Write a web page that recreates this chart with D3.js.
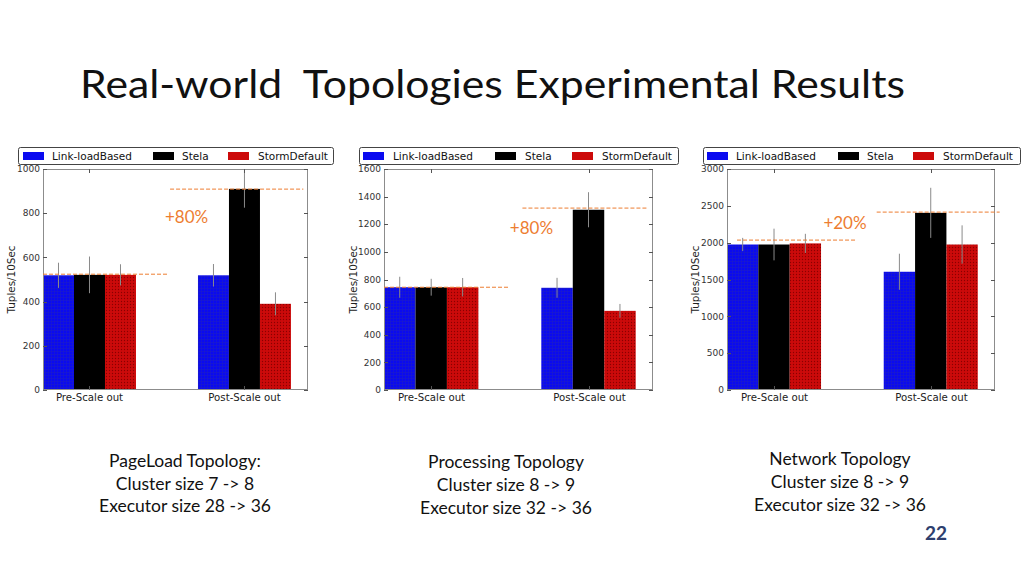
<!DOCTYPE html>
<html><head><meta charset="utf-8">
<script src="https://cdn.jsdelivr.net/npm/d3@7"></script>
<style>body{margin:0;background:#fff;} svg{display:block;}</style>
</head><body>
<svg id="c" width="1024" height="576"></svg>
<script>
const categories = ["Pre-Scale out", "Post-Scale out"];
const seriesNames = ["Link-loadBased", "Stela", "StormDefault"];
// means [group][series], errors (+/-)
const pageLoadMeans = [[519, 521, 521], [519, 910, 390]];
const pageLoadErrors = [[57, 83, 48], [51, 85, 52]];
const processingMeans = [[744, 744, 744], [740, 1305, 573]];
const processingErrors = [[76, 61, 67], [72, 127, 50]];
const networkMeans = [[1975, 1975, 1990], [1605, 2405, 1975]];
const networkErrors = [[90, 215, 130], [245, 340, 260]];
const yMaxes = [1000, 1600, 3000];
const yTickSteps = [200, 200, 500];
// reference dashed lines: [value, x0, x1] in data units
const pageLoadRefs = [[524, 0, 0.806], [909, 0.82, 1.68]];
const processingRefs = [[744, 0, 0.80], [1317, 0.88, 1.67]];
const networkRefs = [[2035, 0.064, 0.82], [2415, 0.955, 1.74]];
const gainLabels = ["+80%", "+80%", "+20%"];
const gainPos = [[0.787, 783], [0.80, 1173], [0.615, 2267]];
const captions = [
  ["PageLoad Topology:", "Cluster size 7 -> 8", "Executor size 28 -> 36"],
  ["Processing Topology", "Cluster size 8 -> 9", "Executor size 32 -> 36"],
  ["Network Topology", "Cluster size 8 -> 9", "Executor size 32 -> 36"]
];
const titleText = "Real-world  Topologies Experimental Results";
const pageNumber = "22";

const svg = d3.select("#c");
const defs = svg.append("defs");
// textures
const pb = defs.append("pattern").attr("id","patBlue").attr("patternUnits","userSpaceOnUse").attr("width",3).attr("height",3);
pb.append("rect").attr("width",3).attr("height",3).attr("fill","#0a0af0");
pb.append("path").attr("d","M0,0.5H3M0.5,0V3").attr("stroke","#1c1cc8").attr("stroke-width",0.6);
const pr = defs.append("pattern").attr("id","patRed").attr("patternUnits","userSpaceOnUse").attr("width",3).attr("height",3);
pr.append("rect").attr("width",3).attr("height",3).attr("fill","#cc0a0a");
pr.append("circle").attr("cx",1.5).attr("cy",1.5).attr("r",0.7).attr("fill","#8a0000");
const fills = ["url(#patBlue)", "#000", "url(#patRed)"];
const swatchFills = ["#0a0af0", "#000", "#cc0a0a"];
const orange = "#ED7D31";

// title
svg.append("text").attr("x",80).attr("y",97.5).attr("font-family","Lato, 'Open Sans', sans-serif")
  .attr("font-size",38).attr("fill","#111").attr("textLength",825).attr("lengthAdjust","spacingAndGlyphs")
  .style("white-space","pre").text(titleText);

const charts = [
  {means: pageLoadMeans, errs: pageLoadErrors, refs: pageLoadRefs, left:43, right:308,
   legend:[18,333], sw:[23,153,228], tx:[52,182,258], ylab:11},
  {means: processingMeans, errs: processingErrors, refs: processingRefs, left:384, right:653,
   legend:[359,678], sw:[363,495,572], tx:[393,525,602], ylab:353},
  {means: networkMeans, errs: networkErrors, refs: networkRefs, left:727, right:995,
   legend:[703,1020], sw:[707,838,913], tx:[736,867,943], ylab:695}
];
const plotTop = 169, plotBottom = 390;
const barW = 0.2;

charts.forEach((c, ci) => {
  const g = svg.append("g");
  const x = d3.scaleLinear().domain([0, 1.71]).range([c.left, c.right]);
  const y = d3.scaleLinear().domain([0, yMaxes[ci]]).range([plotBottom, plotTop]);
  const ticks = d3.range(0, yMaxes[ci] + 1, yTickSteps[ci]);

  // bars
  categories.forEach((cat, gi) => {
    seriesNames.forEach((s, si) => {
      const v = c.means[gi][si];
      g.append("rect").attr("x", x(gi + si*barW)).attr("y", y(v))
        .attr("width", x(barW) - x(0)).attr("height", y(0) - y(v))
        .attr("fill", fills[si]);
    });
  });
  // error bars
  categories.forEach((cat, gi) => {
    seriesNames.forEach((s, si) => {
      const v = c.means[gi][si], e = c.errs[gi][si];
      const cx = x(gi + si*barW + barW/2);
      g.append("line").attr("x1",cx).attr("x2",cx)
        .attr("y1", y(Math.min(v+e, yMaxes[ci]))).attr("y2", y(v-e))
        .attr("stroke","#8a8a8a").attr("stroke-width",1);
    });
  });
  // frame
  g.append("rect").attr("x",c.left+0.5).attr("y",plotTop+0.5).attr("width",c.right-c.left-1).attr("height",plotBottom-plotTop-1)
    .attr("fill","none").attr("stroke","#8c8c8c").attr("stroke-width",1);
  // y ticks
  ticks.forEach(t => {
    const ty = Math.round(y(t)) + 0.5;
    g.append("line").attr("x1",c.left).attr("x2",c.left+4).attr("y1",ty).attr("y2",ty).attr("stroke","#555");
    g.append("line").attr("x1",c.right-4).attr("x2",c.right).attr("y1",ty).attr("y2",ty).attr("stroke","#555");
    g.append("text").attr("x",c.left-3).attr("y",y(t)+3.2).attr("text-anchor","end")
      .attr("font-family","'DejaVu Sans', sans-serif").attr("font-size",9).attr("fill","#333").text(t);
  });
  // x ticks & labels
  categories.forEach((cat, gi) => {
    const cx = Math.round(x(gi + 1.5*barW)) + 0.5;
    g.append("line").attr("x1",cx).attr("x2",cx).attr("y1",plotTop).attr("y2",plotTop+4).attr("stroke","#555");
    g.append("line").attr("x1",cx).attr("x2",cx).attr("y1",plotBottom-4).attr("y2",plotBottom).attr("stroke","#555");
    g.append("text").attr("x",cx).attr("y",plotBottom+11).attr("text-anchor","middle")
      .attr("font-family","'DejaVu Sans', sans-serif").attr("font-size",10.2).attr("fill","#222").text(cat);
  });
  // y label
  g.append("text").attr("transform",`translate(${c.ylab + 3.5},${(plotTop+plotBottom)/2}) rotate(-90)`)
    .attr("text-anchor","middle").attr("font-family","'DejaVu Sans', sans-serif").attr("font-size",10.4)
    .attr("fill","#222").text("Tuples/10Sec");
  // ref dashed lines
  c.refs.forEach(r => {
    g.append("line").attr("x1",x(r[1])).attr("x2",x(r[2])).attr("y1",y(r[0])).attr("y2",y(r[0]))
      .attr("stroke",orange).attr("stroke-width",1).attr("stroke-dasharray","4,2");
  });
  // gain label
  g.append("text").attr("x",x(gainPos[ci][0])).attr("y",y(gainPos[ci][1])+6)
    .attr("font-family","Lato, 'Open Sans', sans-serif").attr("font-size",17).attr("fill",orange).text(gainLabels[ci]);
  // legend
  g.append("rect").attr("x",c.legend[0]+0.5).attr("y",147.5).attr("width",c.legend[1]-c.legend[0]).attr("height",17)
    .attr("rx",2).attr("fill","#fff").attr("stroke","#444").attr("stroke-width",1);
  seriesNames.forEach((s, si) => {
    g.append("rect").attr("x",c.sw[si]).attr("y",152).attr("width",21).attr("height",8).attr("fill",swatchFills[si]);
    g.append("text").attr("x",c.tx[si]).attr("y",160).attr("font-family","'DejaVu Sans', sans-serif")
      .attr("font-size",10.5).attr("fill","#111").text(s);
  });
});

// captions
const capX = [185, 506, 840];
const capY = [[467, 490, 512], [468, 491, 514], [465, 488, 511]];
captions.forEach((lines, i) => {
  lines.forEach((t, j) => {
    svg.append("text").attr("x",capX[i]).attr("y",capY[i][j]).attr("text-anchor","middle")
      .attr("font-family","Lato, 'Open Sans', sans-serif").attr("font-size",17.5).attr("fill","#111").text(t);
  });
});
svg.append("text").attr("x",936).attr("y",540).attr("text-anchor","middle")
  .attr("font-family","Lato, 'Open Sans', sans-serif").attr("font-weight","bold").attr("font-size",19)
  .attr("fill","#2E3F6E").text(pageNumber);
</script>
</body></html>
